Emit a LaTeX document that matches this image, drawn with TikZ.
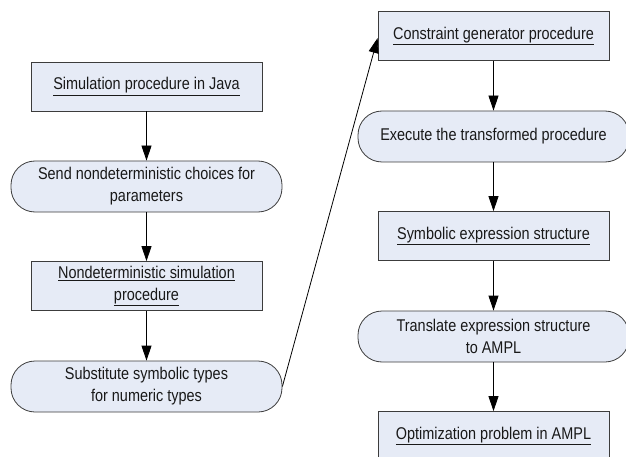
\documentclass[tikz,border=0pt]{standalone}
\usepackage{fontspec}
\setmainfont[FakeStretch=0.85]{Liberation Sans}
\usetikzlibrary{arrows.meta}
\definecolor{fillc}{RGB}{230,235,246}
\definecolor{linec}{RGB}{60,60,60}
\definecolor{textc}{RGB}{25,25,25}
\tikzset{
  boxnode/.style={draw=linec, fill=fillc, line width=0.8pt, minimum width=231pt, minimum height=49pt, inner sep=0pt, align=center, text=textc, font=\fontsize{17}{22}\selectfont},
  roundnode/.style={draw=linec, fill=fillc, line width=0.8pt, rounded corners=24pt, minimum width=271pt, minimum height=51pt, inner sep=0pt, align=center, text=textc, font=\fontsize{17}{22}\selectfont},
  arr/.style={-{Triangle[length=15pt,width=10pt]}, draw=black, line width=0.8pt}
}
\begin{document}
\begin{tikzpicture}[x=1pt,y=-1pt]
\useasboundingbox (0,0) rectangle (626,457);
\clip (0,0) rectangle (626,457);
% left column
\node[boxnode]   (b1) at (146.5,86.5) {\underline{Simulation procedure in Java}};
\node[roundnode] (r2) at (146.5,186.5) {Send nondeterministic choices for\\parameters};
\node[boxnode]   (b3) at (146.5,286) {\underline{Nondeterministic simulation}\\\underline{procedure}};
\node[roundnode] (r4) at (146.5,386.5) {Substitute symbolic types\\for numeric types};
% right column
\node[boxnode]   (b5) at (493.5,36) {\underline{Constraint generator procedure}};
\node[roundnode] (r6) at (493.5,136.5) {Execute the transformed procedure};
\node[boxnode]   (b7) at (493.5,236) {\underline{Symbolic expression structure}};
\node[roundnode] (r8) at (493.5,336.5) {Translate expression structure\\to AMPL};
\node[boxnode]   (b9) at (493.5,436) {\underline{Optimization problem in AMPL}};
% connectors
\draw[arr] (b1) -- (r2);
\draw[arr] (r2) -- (b3);
\draw[arr] (b3) -- (r4);
\draw[arr] (r4.east) -- ([yshift=-2pt]b5.west);
\draw[arr] (b5) -- (r6);
\draw[arr] (r6) -- (b7);
\draw[arr] (b7) -- (r8);
\draw[arr] (r8) -- (b9);
\end{tikzpicture}
\end{document}
